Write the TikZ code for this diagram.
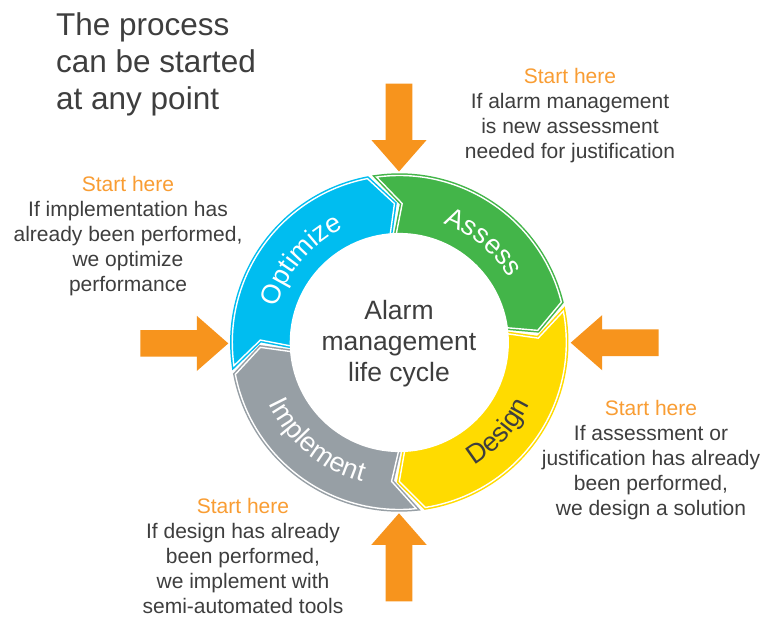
\documentclass[tikz,border=0pt]{standalone}
\usepackage{fontspec}
\setmainfont{Liberation Sans}
\usetikzlibrary{decorations.text}
\definecolor{cblue}{HTML}{00BDF0}
\definecolor{cgreen}{HTML}{43B549}
\definecolor{cyellow}{HTML}{FFDB00}
\definecolor{cgray}{HTML}{979FA5}
\definecolor{corange}{HTML}{F7941D}
\definecolor{cstart}{HTML}{F99D33}
\definecolor{ctext}{HTML}{3E3E3E}
\begin{document}
\begin{tikzpicture}[x=1pt,y=1pt,
  blocktxt/.style={text=ctext, align=center, inner sep=0pt, anchor=north,
    font=\fontsize{21}{25}\selectfont},
  blockarrow/.pic={\fill[corange] (0,0) -- (-31.5,27.6) -- (-31.5,13.3) -- (-88,13.3)
     -- (-88,-13.3) -- (-31.5,-13.3) -- (-31.5,-27.6) -- cycle;},
  seglabel/.style 2 args={decorate, decoration={text along path, text align=center,
     text color=#2, text={|\fontsize{27}{27}\selectfont|#1}}}]
\useasboundingbox (0,0) rectangle (772,-619);
\fill[white] (0,0) rectangle (772,-619);

% ring
\begin{scope}[shift={(399.3,-342.5)}]
  \foreach \A/\B/\col in {179/92/cblue, 88.8/5/cgreen, 1.8/-90/cyellow, -93.2/-178/cgray}{
    \path[fill=\col, draw=\col, line width=4.4pt, line join=miter]
      ({\A+9}:167) arc[start angle={\A+9}, end angle={\B+9}, radius=167]
      -- (\B:139) -- ({\B+3}:107)
      arc[start angle={\B+3}, end angle={\A+3}, radius=107]
      -- (\A:139) -- cycle;
    \draw[white, line width=1.4pt, line join=miter]
      ({\A+9}:167) arc[start angle={\A+9}, end angle={\B+9}, radius=167]
      -- (\B:139) -- ({\B+3}:107)
      arc[start angle={\B+3}, end angle={\A+3}, radius=107]
      -- (\A:139) -- cycle;
  }
  \fill[white] (0,0) circle (109.6);
  \path[seglabel={Optimize}{white}] (180:127) arc[start angle=180, end angle=100, radius=127];
  \path[seglabel={Assess}{white}] (90:127) arc[start angle=90, end angle=10, radius=127];
  \path[seglabel={Design}{ctext}] (-82:144) arc[start angle=-82, end angle=-2, radius=144];
  \path[seglabel={Implement}{white}] (-170:144) arc[start angle=-170, end angle=-90, radius=144];
\end{scope}

% centre text
\node[text=ctext, align=center, inner sep=0pt, anchor=north,
  font=\fontsize{26.5}{31.3}\selectfont] (centre) at (399,-299.7)
  {Alarm\\management\\life cycle};

% title
\node[text=ctext, align=left, inner sep=0pt, anchor=north west,
  font=\fontsize{31.5}{37}\selectfont] (title) at (56,-12)
  {The process\\can be started\\at any point};

% orange arrows
\pic[rotate=-90] at (399,-171.5) {blockarrow};
\pic[rotate=180] at (570.7,-342.7) {blockarrow};
\pic at (228.3,-343.4) {blockarrow};
\pic[rotate=90] at (399,-513.3) {blockarrow};

% start-here texts
\node[blocktxt] (tAssess) at (570,-67.7)
  {\textcolor{cstart}{Start here}\\If alarm management\\is new assessment\\needed for justification};
\node[blocktxt] (tOpt) at (128,-176.4)
  {\textcolor{cstart}{Start here}\\If implementation has\\already been performed,\\we optimize\\performance};
\node[blocktxt] (tDesign) at (651,-399.7)
  {\textcolor{cstart}{Start here}\\If assessment or\\justification has already\\been performed,\\we design a solution};
\node[blocktxt] (tImpl) at (243,-498)
  {\textcolor{cstart}{Start here}\\If design has already\\been performed,\\we implement with\\semi-automated tools};
\end{tikzpicture}
\end{document}
